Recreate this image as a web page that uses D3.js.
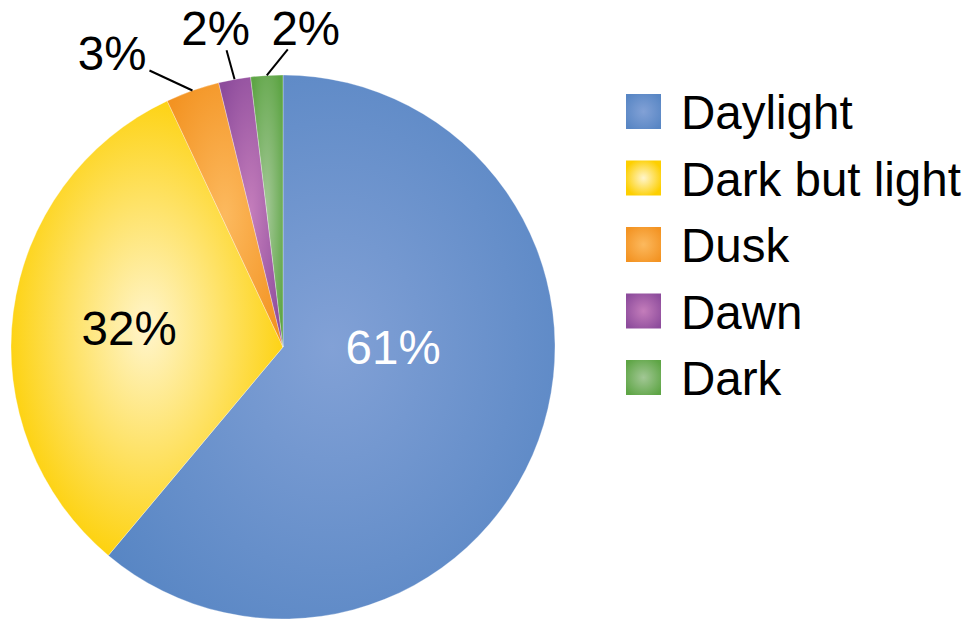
<!DOCTYPE html>
<html><head><meta charset="utf-8">
<script src="https://cdn.jsdelivr.net/npm/d3@7"></script>
<style>body{margin:0;background:#fff}svg{display:block}text{font-family:"Liberation Sans",Arial,Helvetica,sans-serif}</style>
</head><body><div id="chart"></div>
<script>
const categories = ["Daylight", "Dark but light", "Dusk", "Dawn", "Dark"];
const values = [61.1, 31.9, 3.2, 1.9, 1.9];
const edgeColors = ["#5886C4", "#FDCF00", "#F39322", "#8D4C9C", "#5EA545"];
const centerColors = ["#82A1D6", "#FFF5CC", "#FCB95E", "#C47DBB", "#A2C795"];

const W = 967, H = 622;
const cx = 283, cy = 347, R = 272;
const FS = 47.5;

const svg = d3.select("#chart").append("svg").attr("width", W).attr("height", H);
const defs = svg.append("defs");
categories.forEach((c, i) => {
  const g = defs.append("radialGradient").attr("id", "grad" + i)
    .attr("cx", "50%").attr("cy", "50%").attr("r", i === 1 ? "56%" : "62%");
  g.append("stop").attr("offset", "0%").attr("stop-color", centerColors[i]);
  g.append("stop").attr("offset", "100%").attr("stop-color", edgeColors[i]);
});

const data = categories.map((c, i) => ({ cat: c, value: values[i], i }));
const pie = d3.pie().sort(null).value(d => d.value);
const arcs = pie(data);
const arc = d3.arc().innerRadius(0).outerRadius(R);

const g = svg.append("g").attr("transform", `translate(${cx},${cy})`);
g.selectAll("path.slice").data(arcs).enter().append("path")
  .attr("class", "slice")
  .attr("d", arc)
  .attr("fill", d => `url(#grad${d.data.i})`)
  .attr("stroke", "rgba(255,255,255,0.5)")
  .attr("stroke-width", 0.6);

const fmt = v => Math.round(v) + "%";

// inside labels (polar offsets: angle in degrees clockwise from top, radius fraction)
const insidePos = { 0: [90, 0.405], 1: [277, 0.57] };
const insideColor = { 0: "#ffffff", 1: "#000000" };
arcs.filter(a => insidePos[a.data.i]).forEach(a => {
  const [ang, rf] = insidePos[a.data.i];
  const t = ang * Math.PI / 180;
  g.append("text")
    .attr("x", Math.sin(t) * R * rf)
    .attr("y", -Math.cos(t) * R * rf)
    .attr("dy", "0.35em")
    .attr("text-anchor", "middle")
    .attr("font-size", FS)
    .attr("fill", insideColor[a.data.i])
    .text(fmt(a.data.value));
});

// outside labels with leader lines (offsets from arc midpoint)
const leader = { 2: [-43, -20, -3, -1, "end"], 3: [-8, -29, -11, -5, "middle"], 4: [21, -26, 18, -5, "middle"] };
arcs.filter(a => leader[a.data.i]).forEach(a => {
  const mid = (a.startAngle + a.endAngle) / 2;
  const px = Math.sin(mid) * R, py = -Math.cos(mid) * R;
  const [dx, dy, tx, ty, anchor] = leader[a.data.i];
  g.append("line")
    .attr("x1", px).attr("y1", py)
    .attr("x2", px + dx).attr("y2", py + dy)
    .attr("stroke", "#000").attr("stroke-width", 2);
  g.append("text")
    .attr("x", px + dx + tx).attr("y", py + dy + ty)
    .attr("text-anchor", anchor)
    .attr("font-size", FS)
    .attr("fill", "#000")
    .text(fmt(a.data.value));
});

// legend
const legend = svg.append("g").attr("transform", "translate(626,94)");
const rowH = 66.5;
const items = legend.selectAll("g").data(data).enter().append("g")
  .attr("transform", (d, i) => `translate(0,${i * rowH})`);
items.append("rect").attr("width", 35).attr("height", 35)
  .attr("fill", d => `url(#grad${d.i})`);
items.append("text").attr("x", 55).attr("y", 35)
  .attr("font-size", FS).attr("fill", "#000")
  .text(d => d.cat);
</script></body></html>
